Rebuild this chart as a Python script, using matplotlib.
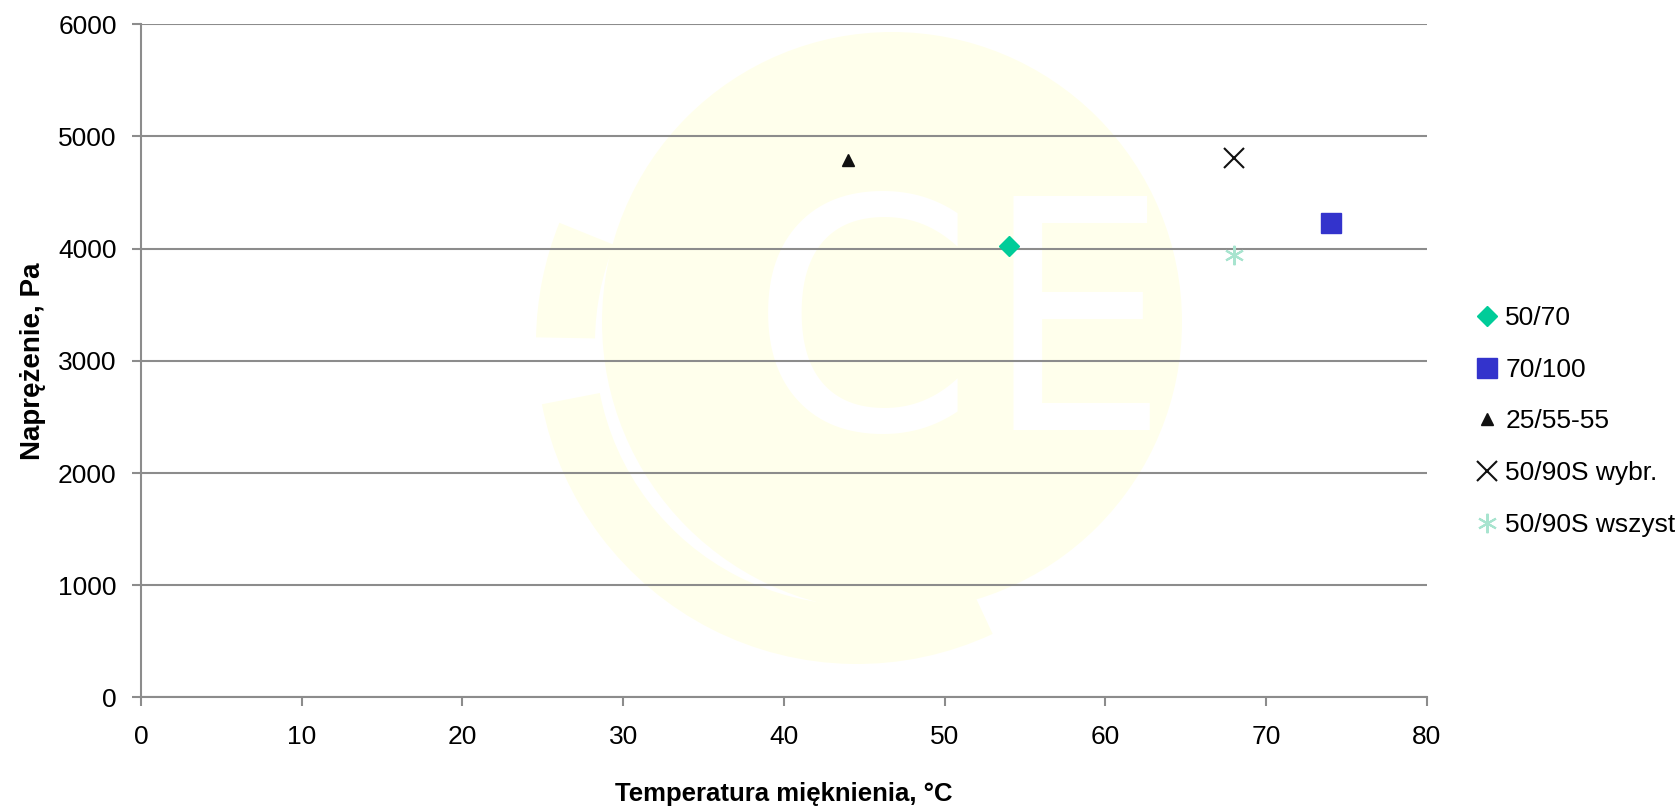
import matplotlib
matplotlib.use("Agg")
import matplotlib.pyplot as plt
from matplotlib.patches import Circle, Wedge

# data
series = ["50/70", "70/100", "25/55-55", "50/90S wybr.", "50/90S wszyst"]
temp = [54, 74, 44, 68, 68]
stress = [4020, 4230, 4790, 4810, 3940]

x_ticks = [0, 10, 20, 30, 40, 50, 60, 70, 80]
y_ticks = [0, 1000, 2000, 3000, 4000, 5000, 6000]

styles = [
    dict(marker="D", color="#00CC99", markersize=10),
    dict(marker="s", color="#3333CC", markersize=15),
    dict(marker="^", color="#111111", markersize=8),
    dict(marker="x", color="#111111", markersize=14, markeredgewidth=1.5),
    dict(marker=(6, 2, 0), color="#A8E4CF", markersize=14, markeredgewidth=1.5),
]

plt.rcParams["font.family"] = ["Liberation Sans", "DejaVu Sans"]

fig = plt.figure(figsize=(16.8, 8.07), dpi=100)

# faint logo watermark behind the plot (pixel coords, y up)
wm = fig.add_axes([0, 0, 1, 1], zorder=0)
wm.set_xlim(0, 1680)
wm.set_ylim(0, 807)
wm.axis("off")
logo = "#FFFFEC"
wm.add_patch(Circle((892, 485), 290, color=logo, lw=0))
wm.add_patch(Wedge((857, 464), 321, 158, 179, width=59, color=logo, lw=0))
wm.add_patch(Wedge((857, 464), 321, 191, 295, width=59, color=logo, lw=0))
wm.text(862, 466, "C", fontsize=232, color="white", ha="center", va="center",
        family="DejaVu Sans")
wm.text(1076, 466, "E", fontsize=232, color="white", ha="center", va="center",
        family="DejaVu Sans", fontstretch="condensed")

ax = fig.add_axes([0.0839, 0.1357, 0.7655, 0.8343], zorder=1)
ax.patch.set_alpha(0)

for name, x, y, st in zip(series, temp, stress, styles):
    ax.plot([x], [y], linestyle="none", label=name, **st)

ax.set_xlim(0, 80)
ax.set_ylim(0, 6000)
ax.set_xticks(x_ticks)
ax.set_yticks(y_ticks)
ax.yaxis.grid(True, color="#8c8c8c", linewidth=1.5)
ax.set_axisbelow(True)
for s in ["top", "right"]:
    ax.spines[s].set_visible(False)
for s in ["left", "bottom"]:
    ax.spines[s].set_color("#8c8c8c")
    ax.spines[s].set_linewidth(1.5)
ax.tick_params(axis="both", colors="#8c8c8c", labelcolor="black", labelsize=19,
               length=6.5, width=1.5)
ax.tick_params(axis="x", pad=13)
ax.tick_params(axis="y", pad=11)

ax.set_xlabel("Temperatura mięknienia, °C", fontsize=18.5, fontweight="bold", labelpad=24)
ax.set_ylabel("Naprężenie, Pa", fontsize=20, fontweight="bold", labelpad=9)

ax.legend(loc="center left", bbox_to_anchor=(1.03, 0.41), frameon=False,
          fontsize=19, handlelength=0.8, handletextpad=0.3, labelspacing=1.05,
          borderaxespad=0)

fig.savefig("out.png", dpi=100)
